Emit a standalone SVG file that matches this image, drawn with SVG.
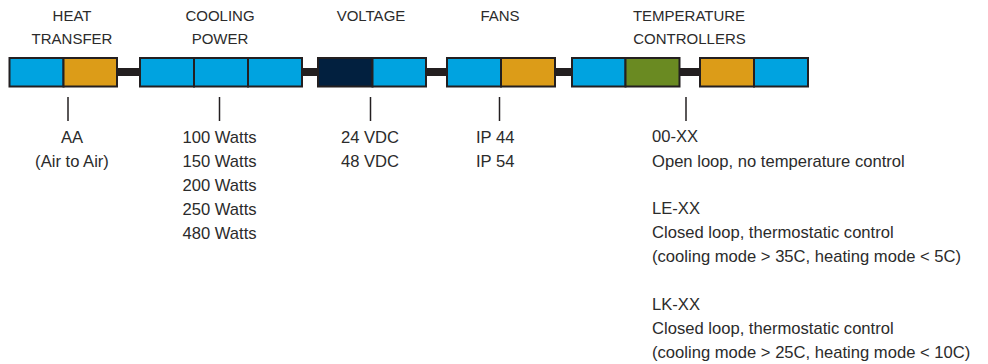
<svg xmlns="http://www.w3.org/2000/svg" width="988" height="364" viewBox="0 0 988 364">
<style>
.t{font-family:"Liberation Sans",Arial,sans-serif;font-size:16.6px;fill:#2b2b2b}
.h{font-family:"Liberation Sans",Arial,sans-serif;font-size:15px;fill:#2b2b2b;text-anchor:middle}
.c{text-anchor:middle}
.b{stroke:#231f20;stroke-width:2}
.blue{fill:#00a3e0}.org{fill:#dc9c18}.navy{fill:#02203f}.grn{fill:#6a8a22}
.bar{fill:#231f20}
.tick{stroke:#231f20;stroke-width:1.5}
</style>
<rect width="988" height="364" fill="#fff"/>
<g id="connectors">
<rect class="bar" x="116" y="68" width="25" height="8"/>
<rect class="bar" x="301" y="68" width="18" height="8"/>
<rect class="bar" x="425" y="68" width="23" height="8"/>
<rect class="bar" x="554" y="68" width="19" height="8"/>
<rect class="bar" x="678" y="68" width="23" height="8"/>
<line class="tick" x1="68" y1="97" x2="68" y2="121"/>
<line class="tick" x1="219.5" y1="97" x2="219.5" y2="121"/>
<line class="tick" x1="370.5" y1="97" x2="370.5" y2="121"/>
<line class="tick" x1="499.5" y1="97" x2="499.5" y2="121"/>
<line class="tick" x1="686" y1="97" x2="686" y2="121"/>
</g>
<g id="heat-transfer">
<rect class="b blue" x="9.5" y="58" width="54" height="28.5"/>
<rect class="b org" x="63.5" y="58" width="53.5" height="28.5"/>
<text class="h" x="72" y="21">HEAT</text>
<text class="h" x="72" y="44">TRANSFER</text>
<text class="t c" x="72" y="143">AA</text>
<text class="t c" x="72" y="167">(Air to Air)</text>
</g>
<g id="cooling-power">
<rect class="b blue" x="140" y="58" width="54" height="28.5"/>
<rect class="b blue" x="194" y="58" width="54" height="28.5"/>
<rect class="b blue" x="248" y="58" width="54" height="28.5"/>
<text class="h" x="220" y="21">COOLING</text>
<text class="h" x="220" y="44">POWER</text>
<text class="t c" x="219.5" y="143">100 Watts</text>
<text class="t c" x="219.5" y="167">150 Watts</text>
<text class="t c" x="219.5" y="191">200 Watts</text>
<text class="t c" x="219.5" y="215">250 Watts</text>
<text class="t c" x="219.5" y="238.5">480 Watts</text>
</g>
<g id="voltage">
<rect class="b navy" x="318" y="58" width="54.5" height="28.5"/>
<rect class="b blue" x="372.5" y="58" width="53.5" height="28.5"/>
<text class="h" x="371" y="21">VOLTAGE</text>
<text class="t c" x="370" y="143">24 VDC</text>
<text class="t c" x="370" y="167">48 VDC</text>
</g>
<g id="fans">
<rect class="b blue" x="447" y="58" width="54" height="28.5"/>
<rect class="b org" x="501" y="58" width="54" height="28.5"/>
<text class="h" x="500" y="21">FANS</text>
<text class="t" x="476" y="143">IP 44</text>
<text class="t" x="476" y="167">IP 54</text>
</g>
<g id="temperature-controllers">
<rect class="b blue" x="572" y="58" width="53.5" height="28.5"/>
<rect class="b grn" x="625.5" y="58" width="54" height="28.5"/>
<rect class="b org" x="700" y="58" width="54" height="28.5"/>
<rect class="b blue" x="754" y="58" width="54" height="28.5"/>
<text class="h" x="689" y="21">TEMPERATURE</text>
<text class="h" x="689.5" y="44">CONTROLLERS</text>
<text class="t" x="652" y="142">00-XX</text>
<text class="t" x="652" y="167">Open loop, no temperature control</text>
<text class="t" x="652" y="214">LE-XX</text>
<text class="t" x="652" y="238">Closed loop, thermostatic control</text>
<text class="t" x="652" y="262">(cooling mode &gt; 35C, heating mode &lt; 5C)</text>
<text class="t" x="652" y="310">LK-XX</text>
<text class="t" x="652" y="334">Closed loop, thermostatic control</text>
<text class="t" x="652" y="358">(cooling mode &gt; 25C, heating mode &lt; 10C)</text>
</g>
</svg>
